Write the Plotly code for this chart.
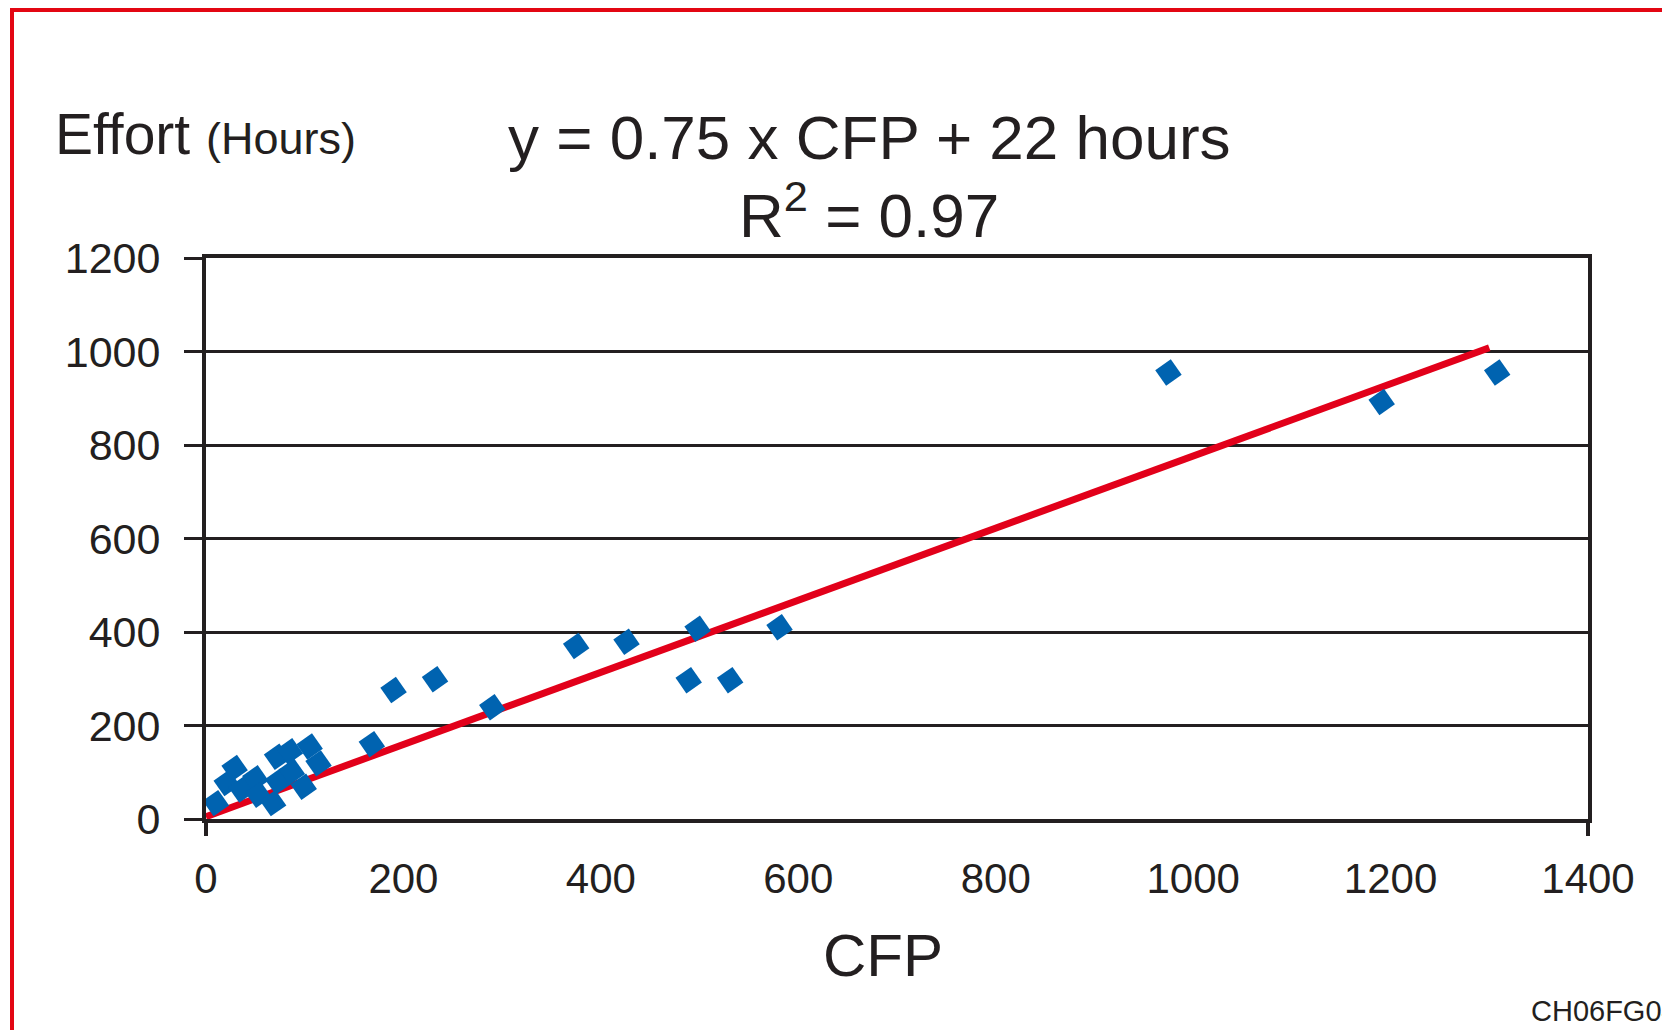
import plotly.graph_objects as go

# ---- data ----
cfp = [10, 21, 29, 36, 50, 53, 68, 72, 73, 85, 87, 99, 105, 114,
       168, 190, 232, 290, 375, 426, 489, 498, 531, 581, 975, 1191, 1308]
effort = [34, 77, 109, 63, 87, 52, 34, 133, 80, 145, 101, 69, 155, 119,
          160, 276, 299, 239, 370, 379, 297, 407, 297, 410, 955, 892, 955]
trend_x = [0, 1300]
trend_y = [5, 1008]
x_ticks = [0, 200, 400, 600, 800, 1000, 1200, 1400]
y_ticks = [0, 200, 400, 600, 800, 1000, 1200]

OFF = 8  # default page body margin of the written html
W, H = 1670 - OFF, 1030 - OFF
L, R, T, B = 206 - OFF, 82, 258 - OFF, 211
PW, PH = W - L - R, H - T - B
INK = "#231f20"
FONT = "Liberation Sans, Arial, Helvetica, sans-serif"


def px(xp):
    # page pixel -> paper fraction
    return (xp - OFF - L) / PW


def py(yp):
    return (H - B - (yp - OFF)) / PH


fig = go.Figure()
fig.add_trace(go.Scatter(x=trend_x, y=trend_y, mode="lines",
                         line=dict(color="#e2001a", width=7), hoverinfo="skip"))
fig.add_trace(go.Scatter(x=cfp, y=effort, mode="markers",
                         marker=dict(symbol="square", size=19, angle=55,
                                     color="#0063b0", line=dict(width=0))))
# invisible helper trace on the overlay axis so it renders
fig.add_trace(go.Scatter(x=[x_ticks[0]], y=[y_ticks[0]], xaxis="x2", mode="markers",
                         marker=dict(opacity=0), hoverinfo="skip"))

fig.update_layout(
    width=W, height=H,
    margin=dict(l=L, r=R, t=T, b=B),
    paper_bgcolor="white", plot_bgcolor="white",
    showlegend=False,
    font=dict(family=FONT, color=INK),
    xaxis=dict(range=[0, 1400], tickvals=x_ticks, showgrid=False, zeroline=False,
               showline=True, mirror=True, linecolor=INK, linewidth=4,
               ticks="", tickfont=dict(size=42, color=INK), ticklabelstandoff=20),
    xaxis2=dict(range=[0, 1400], overlaying="x", anchor="y", side="bottom",
                tickvals=[x_ticks[0], x_ticks[-1]], ticks="outside", ticklen=16,
                tickwidth=4, tickcolor=INK, showticklabels=False, showgrid=False,
                zeroline=False, showline=False),
    yaxis=dict(range=[0, 1200], tickvals=y_ticks, showgrid=True, gridcolor=INK,
               gridwidth=3, zeroline=False, showline=True, mirror=True,
               linecolor=INK, linewidth=4, ticks="outside", ticklen=18,
               tickwidth=3, tickcolor=INK, tickfont=dict(size=43, color=INK),
               ticklabelstandoff=15),
)

ann = [
    dict(text="Effort <span style='font-size:45px'>(Hours)</span>", x=px(53), y=py(134),
         xanchor="left", yanchor="middle", font=dict(size=57)),
    dict(text="y = 0.75 x CFP + 22 hours", x=px(869), y=py(137),
         xanchor="center", yanchor="middle", font=dict(size=62)),
    dict(text="R<sup>2</sup> = 0.97", x=px(869), y=py(211),
         xanchor="center", yanchor="middle", font=dict(size=62)),
    dict(text="CFP", x=px(883), y=py(955),
         xanchor="center", yanchor="middle", font=dict(size=60)),
    dict(text="CH06FG04", x=px(1529), y=py(1011),
         xanchor="left", yanchor="middle", font=dict(size=29)),
]
for a in ann:
    a.update(xref="paper", yref="paper", showarrow=False)
    a["font"].update(family=FONT, color=INK)
fig.update_layout(annotations=ann)

# red frame of the figure (right/bottom edges lie outside the picture)
fig.add_shape(type="rect", xref="paper", yref="paper",
              x0=px(12), x1=px(1710), y0=py(1070), y1=py(10),
              line=dict(color="#e30613", width=4), fillcolor="rgba(0,0,0,0)")

fig.write_html("out.html")
